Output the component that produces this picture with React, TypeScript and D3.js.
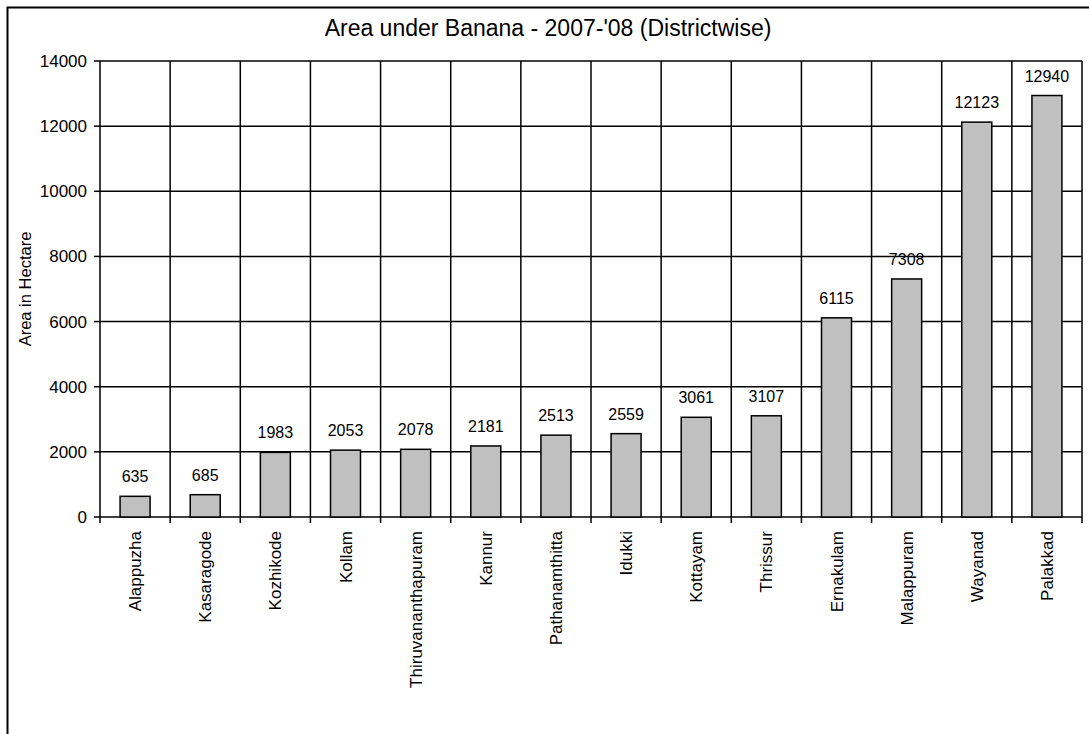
import React, { useEffect, useRef } from 'react';
import * as d3 from 'd3';

const districts = [
  'Alappuzha', 'Kasaragode', 'Kozhikode', 'Kollam', 'Thiruvananthapuram', 'Kannur',
  'Pathanamthitta', 'Idukki', 'Kottayam', 'Thrissur', 'Ernakulam', 'Malappuram', 'Wayanad', 'Palakkad',
];
const areas = [635, 685, 1983, 2053, 2078, 2181, 2513, 2559, 3061, 3107, 6115, 7308, 12123, 12940];
const yTicks = [0, 2000, 4000, 6000, 8000, 10000, 12000, 14000];

const App: React.FC = () => {
  const ref = useRef<SVGSVGElement>(null);

  useEffect(() => {
    if (!ref.current) return;
    const svg = d3.select(ref.current);
    svg.selectAll('*').remove();

    const W = 1089, H = 734;
    const left = 100, right = 1082, top = 61, bottom = 517;
    const font = 'Liberation Sans, Arial, sans-serif';

    svg.append('rect').attr('width', W).attr('height', H).attr('fill', '#fff');
    // outer frame (runs off right/bottom edge)
    svg.append('rect')
      .attr('x', 7.5).attr('y', 7.5).attr('width', W + 10).attr('height', H + 10)
      .attr('fill', 'none').attr('stroke', '#000').attr('stroke-width', 2);

    const x = d3.scaleBand().domain(districts).range([left, right]).paddingInner(0).paddingOuter(0);
    const y = d3.scaleLinear().domain([0, 14000]).range([bottom, top]);

    svg.append('text')
      .attr('x', 548).attr('y', 36).attr('text-anchor', 'middle')
      .attr('font-family', font).attr('font-size', 23).text("Area under Banana - 2007-'08 (Districtwise)");

    const g = svg.append('g');
    // horizontal grid
    g.selectAll('line.h').data(yTicks).join('line')
      .attr('x1', left).attr('x2', right)
      .attr('y1', d => y(d)).attr('y2', d => y(d))
      .attr('stroke', '#000').attr('stroke-width', 1.5);
    // vertical grid
    const bounds = districts.map(d => x(d)!).concat([right]);
    g.selectAll('line.v').data(bounds).join('line')
      .attr('x1', d => d).attr('x2', d => d)
      .attr('y1', top).attr('y2', bottom + 6)
      .attr('stroke', '#000').attr('stroke-width', 1.5);
    // y ticks
    g.selectAll('line.yt').data(yTicks).join('line')
      .attr('x1', left - 6).attr('x2', left)
      .attr('y1', d => y(d)).attr('y2', d => y(d))
      .attr('stroke', '#000').attr('stroke-width', 1.5);
    g.selectAll('text.yl').data(yTicks).join('text')
      .attr('x', left - 13).attr('y', d => y(d) + 6).attr('text-anchor', 'end')
      .attr('font-family', font).attr('font-size', 17).text(d => d);

    const bw = 30;
    g.selectAll('rect.bar').data(areas).join('rect')
      .attr('x', (d, i) => x(districts[i])! + x.bandwidth() / 2 - bw / 2)
      .attr('y', d => y(d)).attr('width', bw).attr('height', d => bottom - y(d))
      .attr('fill', '#c0c0c0').attr('stroke', '#000').attr('stroke-width', 1.5);

    g.selectAll('text.val').data(areas).join('text')
      .attr('x', (d, i) => x(districts[i])! + x.bandwidth() / 2)
      .attr('y', d => y(d) - 14).attr('text-anchor', 'middle')
      .attr('font-family', font).attr('font-size', 16).text(d => d);

    g.selectAll('text.cat').data(districts).join('text')
      .attr('transform', d => `translate(${x(d)! + x.bandwidth() / 2 + 6},${bottom + 14}) rotate(-90)`)
      .attr('text-anchor', 'end')
      .attr('font-family', font).attr('font-size', 17).text(d => d);

    svg.append('text')
      .attr('transform', `translate(31,${(top + bottom) / 2}) rotate(-90)`)
      .attr('text-anchor', 'middle')
      .attr('font-family', font).attr('font-size', 16.5).text('Area in Hectare');
  }, []);

  return <svg ref={ref} width={1089} height={734} style={{ position: 'absolute', left: 0, top: 0 }} />;
};

export default App;
